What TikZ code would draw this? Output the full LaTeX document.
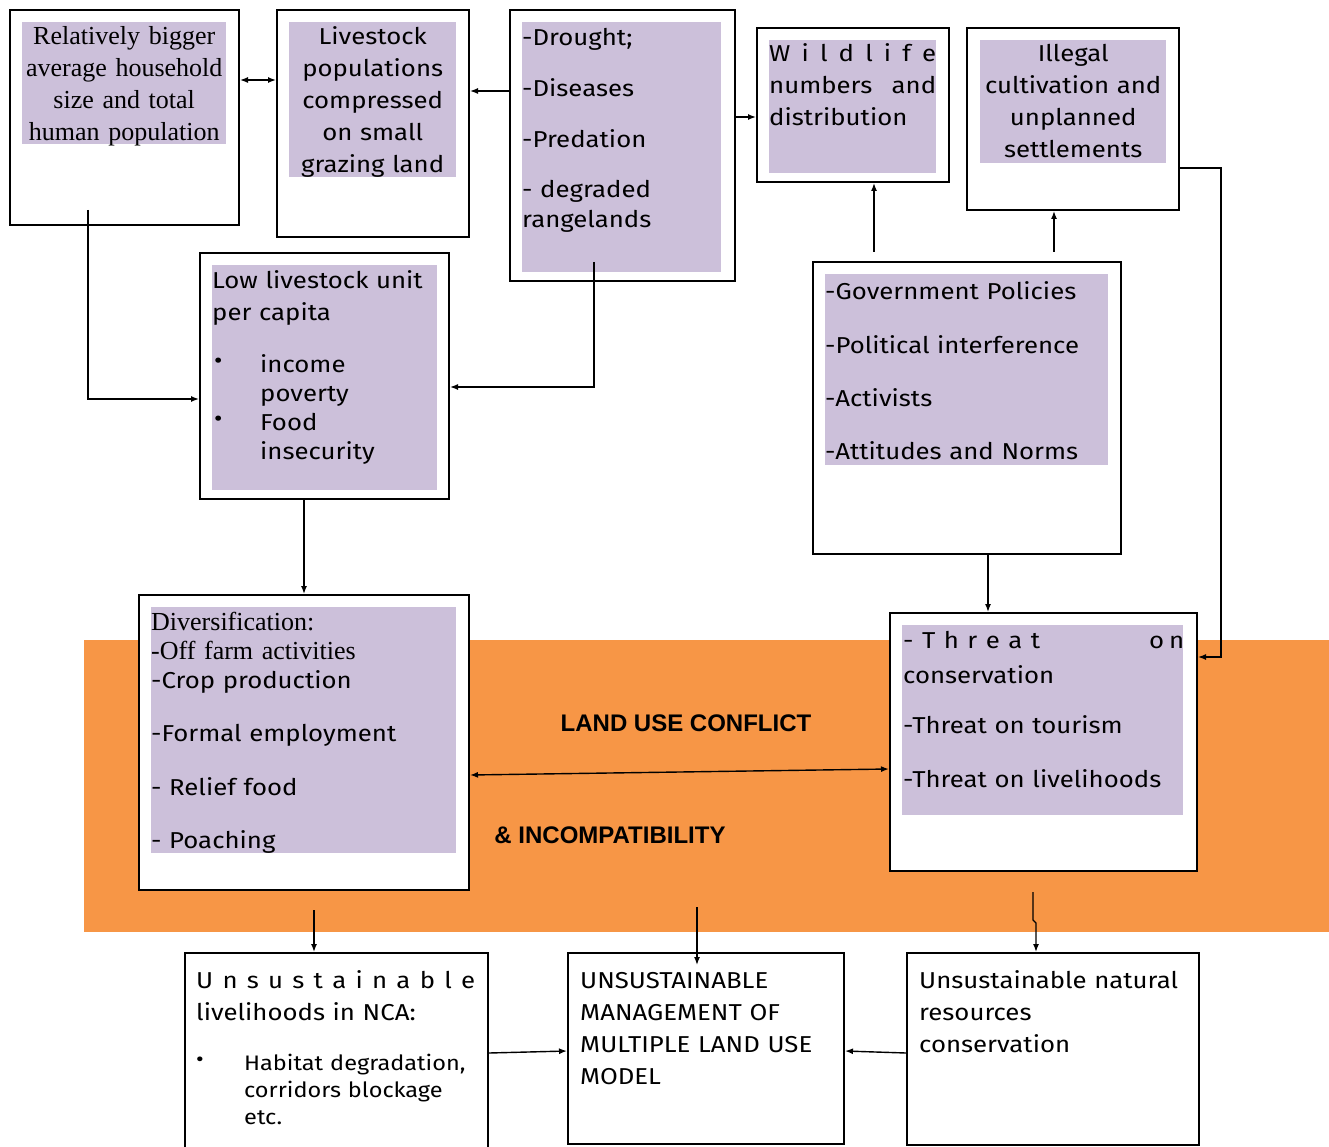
\documentclass[tikz,border=0pt]{standalone}
\usepackage{fontspec}
\setmainfont{Fira Sans}[FakeStretch=1.12]
\newfontfamily\serifA{Liberation Serif}
\newfontfamily\arialA{Liberation Sans}
\usetikzlibrary{arrows.meta}
\definecolor{lav}{HTML}{CCC0DA}
\definecolor{orng}{HTML}{F79646}
\begin{document}
\begin{tikzpicture}[x=1pt,y=-1pt,
  box/.style={draw=black,line width=2pt,fill=white,anchor=north west,inner sep=0pt},
  txt/.style={inner sep=0pt,anchor=base west,align=left,font=\fontsize{23}{32}\selectfont},
  arr/.style={line width=1.4pt,-{Latex[length=8pt,width=6pt]}},
  darr/.style={line width=1.4pt,{Latex[length=8pt,width=6pt]}-{Latex[length=8pt,width=6pt]}},
  lbl/.style={inner sep=0pt,font=\arialA\bfseries\fontsize{24}{28}\selectfont}]
\useasboundingbox (0,0) rectangle (1329,1147);
\fill[orng] (84,640) rectangle (1329,932);
% boxes
\node[box,minimum width=229,minimum height=215] (A) at (9,9) {};
\node[box,minimum width=192,minimum height=227] (B) at (276,9) {};
\node[box,minimum width=225,minimum height=271] (C) at (509,9) {};
\node[box,minimum width=192,minimum height=154] (D) at (756,27) {};
\node[box,minimum width=212,minimum height=182] (E) at (966,27) {};
\node[box,minimum width=249,minimum height=246] (F) at (199,252) {};
\node[box,minimum width=308,minimum height=292] (G) at (812,261) {};
\node[box,minimum width=330,minimum height=295] (H) at (138,594) {};
\node[box,minimum width=307,minimum height=258] (I) at (889,612) {};
\node[box,minimum width=303,minimum height=230] (J) at (184,952) {};
\node[box,minimum width=276,minimum height=191] (K) at (567,952) {};
\node[box,minimum width=292,minimum height=192] (L) at (906,952) {};
% lavender panels
\fill[lav] (22,22) rectangle (226,144);
\fill[lav] (289,22) rectangle (456,177);
\fill[lav] (522,22) rectangle (721,272);
\fill[lav] (769,40) rectangle (936,173);
\fill[lav] (980,40) rectangle (1166,163);
\fill[lav] (212,265) rectangle (437,490);
\fill[lav] (825,274) rectangle (1108,465);
\fill[lav] (151,607) rectangle (456,853);
\fill[lav] (902,625) rectangle (1183,815);
% texts
\node[txt,text width=204,align=center,font=\serifA\fontsize{26}{32}\selectfont] (tA) at (22,45)
  {Relatively bigger\\average household\\size and total\\human population};
\node[txt,text width=167,align=center] (tB) at (289,45)
  {Livestock\\populations\\compressed\\on small\\grazing land};
\node[txt,text width=199,font=\fontsize{23}{30}\selectfont] (tC) at (522,46)
  {-Drought;\\[21pt]-Diseases\\[21pt]-Predation\\[20pt]- degraded\\rangelands};
\node[txt,text width=167] (tD) at (769,62)
  {\makebox[167pt][l]{W\hfill i\hfill l\hfill d\hfill l\hfill i\hfill f\hfill e}\\\makebox[167pt][l]{numbers\hfill and}\\distribution};
\node[txt,text width=186,align=center] (tE) at (980,62)
  {Illegal\\cultivation and\\unplanned\\settlements};
\node[txt,text width=225] (tF) at (212,289)
  {Low livestock unit\\per capita\\[19pt]\makebox[48pt][l]{\hspace{2pt}\raisebox{4pt}{•}}income\\[-3pt]\hspace*{48pt}poverty\\[-3pt]\makebox[48pt][l]{\hspace{2pt}\raisebox{4pt}{•}}Food\\[-3pt]\hspace*{48pt}insecurity};
\node[txt,text width=283,font=\fontsize{23}{53}\selectfont] (tG) at (825,300)
  {-Government Policies\\-Political interference\\-Activists\\-Attitudes and Norms};
\node[txt,text width=305,font=\serifA\fontsize{26}{29}\selectfont] (tH1) at (151,630)
  {Diversification:\\-Off farm activities};
\node[txt,text width=305,font=\fontsize{23}{53.5}\selectfont] (tH2) at (151,688)
  {-Crop production\\-Formal employment\\- Relief food\\- Poaching};
\node[txt,text width=281,font=\fontsize{23}{35}\selectfont] (tI) at (903,648)
  {\makebox[281pt][l]{\makebox[137pt][l]{-\hfill T\hfill h\hfill r\hfill e\hfill a\hfill t}\hfill\makebox[35pt][l]{o\hfill n}}\\conservation\\[15pt]-Threat on tourism\\[19pt]-Threat on livelihoods};
\node[txt,text width=290] (tJ1) at (196,988)
  {\makebox[279pt][l]{U\hfill n\hfill s\hfill u\hfill s\hfill t\hfill a\hfill i\hfill n\hfill a\hfill b\hfill l\hfill e}\\livelihoods in NCA:};
\node[txt,font=\fontsize{21}{27}\selectfont,text width=20] (tJb) at (196,1066) {•};
\node[txt,text width=235,font=\fontsize{21}{27}\selectfont] (tJ2) at (244,1070)
  {Habitat degradation,\\corridors blockage\\etc.};
\node[txt,text width=260] (tK) at (580,988)
  {UNSUSTAINABLE\\MANAGEMENT OF\\MULTIPLE LAND USE\\MODEL};
\node[txt,text width=275] (tL) at (919,988)
  {Unsustainable natural\\resources\\conservation};
\node[lbl] (lc) at (686,723) {LAND USE CONFLICT};
\node[lbl] (li) at (610,835) {\& INCOMPATIBILITY};
% free ends
\coordinate (a1) at (88,210);
\coordinate (c1) at (594,262);
\coordinate (g1) at (874,252);
\coordinate (g2) at (1054,252);
\coordinate (h1) at (314,910);
\coordinate (o1) at (697,907);
\coordinate (k1) at (697,965);
\coordinate (i1) at (1033,892);
% connectors
\draw[darr] (A.east |- 0,80) -- (B.west |- 0,80);
\draw[arr] (C.west |- 0,91) -- (B.east |- 0,91);
\draw[arr] (C.east |- 0,117) -- (D.west |- 0,117);
\draw[arr] (a1) |- (F.west |- 0,399);
\draw[arr] (c1) |- (F.east |- 0,387);
\draw[arr] (F.south -| 304,0) -- (H.north -| 304,0);
\draw[arr] (g1) -- (D.south -| g1);
\draw[arr] (g2) -- (E.south -| g2);
\draw[arr] (G.south -| 988,0) -- (I.north -| 988,0);
\draw[arr] (E.east |- 0,168) -| (1221,657) -- (I.east |- 0,657);
\draw[darr] (H.east |- 0,775) -- (I.west |- 0,769);
\draw[arr] (h1) -- (J.north -| h1);
\draw[arr] (o1) -- (k1);
\draw[arr] (i1) -- (1033,920) -- (1036,923) -- (L.north -| 1036,0);
\draw[arr] (J.east |- 0,1053) -- (K.west |- 0,1051);
\draw[arr] (L.west |- 0,1053) -- (K.east |- 0,1051);
\end{tikzpicture}
\end{document}
